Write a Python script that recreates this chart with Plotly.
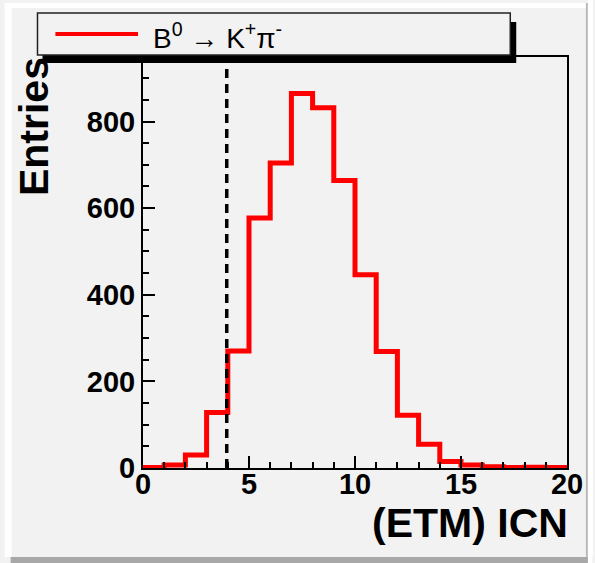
import plotly.graph_objects as go

# ---------------- data ----------------
bin_edges = list(range(0, 21))          # (ETM) ICN bins, width 1
counts = [1, 7, 30, 128, 270, 577, 704, 865, 832, 664,
          446, 269, 122, 55, 15, 7, 3, 1, 2, 1]
cut_value = 3.95
y_tickvals = [0, 200, 400, 600, 800]
x_tickvals = [0, 5, 10, 15, 20]
legend_label = "B<sup>0</sup> \u2192 K<sup>+</sup>\u03c0<sup>-</sup>"
x_title = "(ETM) ICN"
y_title = "Entries"

# ---------------- layout geometry (pixels) ----------------
W, H = 595, 563
L, R, T, B = 143, 569, 57, 468
YMAX = 949


def px(xpix):
    return (xpix - L) / (R - L)


def py(ypix):
    return (B - ypix) / (B - T)


FONT = "Liberation Sans, Arial, Helvetica, sans-serif"
BG = "#f2f2f2"

fig = go.Figure()

# histogram as step line
fig.add_trace(go.Scatter(
    x=bin_edges,
    y=counts + [counts[-1]],
    mode="lines",
    line=dict(color="#ff0000", width=5, shape="hv"),
    showlegend=False,
    hoverinfo="skip",
))

# dashed cut line
fig.add_trace(go.Scatter(
    x=[cut_value, cut_value],
    y=[0, YMAX],
    mode="lines",
    line=dict(color="black", width=3.5, dash="9px,6px"),
    showlegend=False,
    hoverinfo="skip",
))

shapes = []
# canvas bevel
shapes.append(dict(type="rect", xref="paper", yref="paper",
                   x0=px(4), x1=px(11), y0=py(557), y1=py(3),
                   fillcolor="white", line=dict(width=0), layer="below"))
shapes.append(dict(type="rect", xref="paper", yref="paper",
                   x0=px(4), x1=px(589), y0=py(8), y1=py(3),
                   fillcolor="white", line=dict(width=0), layer="below"))
shapes.append(dict(type="rect", xref="paper", yref="paper",
                   x0=px(10), x1=px(595), y0=py(563), y1=py(557),
                   fillcolor="#a8a8a8", line=dict(width=0), layer="below"))
shapes.append(dict(type="rect", xref="paper", yref="paper",
                   x0=px(588), x1=px(590), y0=py(557), y1=py(3),
                   fillcolor="#b8b8b8", line=dict(width=0), layer="below"))
shapes.append(dict(type="rect", xref="paper", yref="paper",
                   x0=px(590), x1=px(595), y0=py(563), y1=py(0),
                   fillcolor="white", line=dict(width=0), layer="below"))

# legend shadow + box
shapes.append(dict(type="rect", xref="paper", yref="paper",
                   x0=px(42), x1=px(518), y0=py(63), y1=py(22),
                   fillcolor="black", line=dict(width=0), layer="above"))
shapes.append(dict(type="rect", xref="paper", yref="paper",
                   x0=px(37), x1=px(512), y0=py(55), y1=py(13),
                   fillcolor=BG, line=dict(color="#222222", width=1.5),
                   layer="above"))
shapes.append(dict(type="line", xref="paper", yref="paper",
                   x0=px(55), x1=px(138), y0=py(34), y1=py(34),
                   line=dict(color="#ff0000", width=4), layer="above"))

annotations = [
    dict(text=legend_label, xref="paper", yref="paper",
         x=px(151), y=py(36), xanchor="left", yanchor="middle",
         showarrow=False, font=dict(family=FONT, size=28, color="black")),
    dict(text=y_title, xref="paper", yref="paper",
         x=px(33), y=py(55), xanchor="center", yanchor="top",
         textangle=-90, showarrow=False,
         font=dict(family=FONT, size=41, color="black", weight="bold")),
    dict(text=x_title, xref="paper", yref="paper",
         x=px(572), y=py(548), xanchor="right", yanchor="bottom",
         showarrow=False,
         font=dict(family=FONT, size=41, color="black", weight="bold")),
]

fig.update_layout(
    width=W, height=H,
    margin=dict(l=L, r=W - R, t=T, b=H - B, pad=0),
    paper_bgcolor=BG, plot_bgcolor=BG,
    shapes=shapes, annotations=annotations,
    showlegend=False,
    font=dict(family=FONT, color="black"),
)

fig.update_xaxes(
    range=[0, 20], tickvals=x_tickvals,
    ticks="inside", ticklen=12, tickwidth=2, tickcolor="black",
    minor=dict(ticks="inside", dtick=1, ticklen=6, tickwidth=2, tickcolor="black"),
    showline=True, linecolor="black", linewidth=2, mirror=True,
    showgrid=False, zeroline=False, ticklabelstandoff=-11,
    tickfont=dict(family=FONT, size=29, color="black", weight="bold"),
)
fig.update_yaxes(
    range=[0, YMAX], tickvals=y_tickvals,
    ticks="inside", ticklen=12, tickwidth=2, tickcolor="black",
    minor=dict(ticks="inside", dtick=50, ticklen=6, tickwidth=2, tickcolor="black"),
    showline=True, linecolor="black", linewidth=2, mirror=True,
    showgrid=False, zeroline=False,
    tickfont=dict(family=FONT, size=29, color="black", weight="bold"),
)

fig.write_html("out.html")
